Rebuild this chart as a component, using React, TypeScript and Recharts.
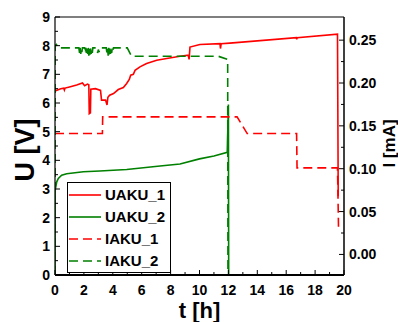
import React from 'react';
import { ComposedChart, Line, XAxis, YAxis, ReferenceLine, Label } from 'recharts';

const FONT = '"Liberation Sans", Arial, Helvetica, sans-serif';
const RED = '#ff0000';
const GREEN = '#008000';

// UAKU_1 (red solid, left axis, V)
const ua1T = [0, 0.4, 0.6, 0.65, 0.7, 1.0, 1.5, 1.9, 2.05, 2.25, 2.34, 2.37, 2.45, 2.48, 2.8, 3.15, 3.22, 3.5, 3.6, 3.66, 3.78, 4.05, 4.38, 4.73, 4.96, 5.14, 5.24, 5.42, 5.54, 5.88, 6.34, 7.04, 7.73, 8.65, 9.22, 9.28, 9.34, 10.03, 11.42, 11.45, 11.5, 12.1, 16.7, 16.73, 16.76, 19.55, 19.6];
const ua1V = [6.42, 6.5, 6.52, 6.45, 6.52, 6.56, 6.63, 6.7, 6.6, 6.66, 6.64, 5.63, 5.66, 6.48, 6.5, 6.44, 6.1, 6.1, 5.93, 6.2, 6.27, 6.33, 6.47, 6.54, 6.68, 6.82, 6.97, 7.0, 7.14, 7.26, 7.38, 7.49, 7.55, 7.63, 7.67, 7.52, 7.95, 8.04, 8.07, 7.9, 8.07, 8.09, 8.28, 8.22, 8.28, 8.4, 2.75];

// UAKU_2 (green solid, left axis, V)
const ua2T = [0, 0.01, 0.12, 0.23, 0.46, 0.81, 1.96, 3.1, 4.96, 7.27, 8.65, 10.0, 11.0, 11.92, 12.0, 12.02];
const ua2V = [0, 2.95, 3.25, 3.37, 3.48, 3.53, 3.6, 3.63, 3.68, 3.8, 3.87, 4.05, 4.15, 4.28, 5.95, 0];

// IAKU_1 (red dashed, right axis, mA)
const ia1T = [0, 3.28, 3.3, 12.6, 13.3, 16.72, 16.75, 19.55, 19.62];
const ia1V = [0.141, 0.141, 0.1605, 0.1605, 0.141, 0.141, 0.101, 0.101, 0.032];

// IAKU_2 (green dashed, right axis, mA)
const ia2T = [0, 0.01, 0.1, 0.2, 1.65, 1.7, 1.74, 1.78, 1.82, 1.86, 1.9, 2.05, 2.1, 2.14, 2.18, 2.22, 2.26, 2.3, 2.34, 2.38, 2.42, 2.46, 2.5, 2.54, 2.58, 2.62, 2.66, 2.9, 2.95, 3.0, 3.05, 3.1, 3.55, 3.6, 3.64, 3.68, 3.72, 3.76, 3.8, 3.84, 3.88, 3.92, 3.96, 4.0, 4.05, 5.0, 5.3, 11.3, 11.95, 11.97];
const ia2V = [-0.024, 0.244, 0.245, 0.241, 0.241, 0.235, 0.241, 0.234, 0.240, 0.236, 0.241, 0.241, 0.235, 0.241, 0.233, 0.240, 0.234, 0.241, 0.232, 0.240, 0.233, 0.241, 0.234, 0.240, 0.235, 0.241, 0.241, 0.241, 0.235, 0.239, 0.236, 0.241, 0.241, 0.234, 0.240, 0.232, 0.241, 0.233, 0.240, 0.234, 0.241, 0.235, 0.240, 0.236, 0.241, 0.241, 0.2312, 0.2312, 0.2275, -0.024];

const xTicks = [0, 1, 2, 3, 4, 5, 6, 7, 8, 9, 10, 11, 12, 13, 14, 15, 16, 17, 18, 19, 20];
const uTicks = [0, 0.5, 1, 1.5, 2, 2.5, 3, 3.5, 4, 4.5, 5, 5.5, 6, 6.5, 7, 7.5, 8, 8.5, 9];
const iTicks = [0, 0.025, 0.05, 0.075, 0.1, 0.125, 0.15, 0.175, 0.2, 0.225, 0.25];
const iMajor = [0, 0.05, 0.1, 0.15, 0.2, 0.25];

const legendNames = ['UAKU_1', 'UAKU_2', 'IAKU_1', 'IAKU_2'];
const legendColors = [RED, GREEN, RED, GREEN];
const legendDash = [false, false, true, true];

const zip = (t: number[], v: number[]) => t.map((tt, i) => ({ t: tt, v: v[i] }));
const ua1 = zip(ua1T, ua1V);
const ua2 = zip(ua2T, ua2V);
const ia1 = zip(ia1T, ia1V);
const ia2 = zip(ia2T, ia2V);

const TM = 5;
const XTM = 10;

function XTick(props: any) {
  const { x, y, payload } = props;
  const v = payload.value;
  const major = v % 2 === 0;
  const ay = y - XTM;
  return (
    <g>
      <line x1={x} x2={x} y1={ay} y2={ay - (major ? 5 : 3)} stroke="#000" strokeWidth={1} />
      {major && (
        <text x={x} y={y} dy="0.71em" textAnchor="middle" fontSize={14} fontWeight="bold" fontFamily={FONT} fill="#000">
          {v}
        </text>
      )}
    </g>
  );
}

function LTick(props: any) {
  const { x, y, payload } = props;
  const v = payload.value;
  const major = Number.isInteger(v);
  const ax = x + TM;
  return (
    <g>
      <line x1={ax} x2={ax + (major ? 5 : 3)} y1={y} y2={y} stroke="#000" strokeWidth={1} />
      {major && (
        <text x={x} y={y} dy="0.355em" textAnchor="end" fontSize={14} fontWeight="bold" fontFamily={FONT} fill="#000">
          {v}
        </text>
      )}
    </g>
  );
}

function RTick(props: any) {
  const { x, y, payload } = props;
  const v = payload.value;
  const major = iMajor.some((m) => Math.abs(m - v) < 1e-9);
  const ax = x - TM;
  return (
    <g>
      <line x1={ax} x2={ax - (major ? 5 : 3)} y1={y} y2={y} stroke="#000" strokeWidth={1} />
      {major && (
        <text x={x} y={y} dy="0.355em" textAnchor="start" fontSize={14} fontWeight="bold" fontFamily={FONT} fill="#000">
          {v.toFixed(2)}
        </text>
      )}
    </g>
  );
}

function LegendBox() {
  return (
    <div
      style={{
        position: 'absolute',
        left: 67,
        top: 182,
        width: 104,
        height: 91,
        border: '1px solid #000',
        background: '#fff',
        boxSizing: 'border-box',
        fontFamily: FONT,
        fontWeight: 'bold',
        fontSize: 15,
        color: '#000',
      }}
    >
      {legendNames.map((n, i) => (
        <div key={n} style={{ position: 'absolute', left: 0, top: 2 + i * 22, height: 20, width: 102, lineHeight: '20px', whiteSpace: 'nowrap' }}>
          <svg width={34} height={20} style={{ position: 'absolute', left: 0, top: 0 }}>
            <line x1={1} x2={33} y1={10} y2={10} stroke={legendColors[i]} strokeWidth={1.6} strokeDasharray={legendDash[i] ? '9 5' : undefined} />
          </svg>
          <span style={{ position: 'absolute', left: 37, top: 0 }}>{n}</span>
        </div>
      ))}
    </div>
  );
}

export default function App() {
  return (
    <div style={{ position: 'absolute', left: 0, top: 0, width: 398, height: 322, background: '#fff' }}>
      <ComposedChart width={398} height={322} margin={{ top: 17, right: 0, bottom: 0, left: 0 }}>
        <XAxis
          type="number"
          dataKey="t"
          domain={[0, 20]}
          ticks={xTicks}
          interval={0}
          height={47}
          tickSize={0}
          tickMargin={XTM}
          tickLine={false}
          tick={<XTick />}
          axisLine={{ stroke: '#000', strokeWidth: 1.8 }}
          allowDataOverflow
        >
          <Label
            content={(p: any) => {
              const vb = p.viewBox || { x: 55, y: 275, width: 289, height: 47 };
              return (
                <text x={vb.x + vb.width / 2} y={vb.y + 43} textAnchor="middle" fontSize={22} fontWeight="bold" fontFamily={FONT} fill="#000">
                  t [h]
                </text>
              );
            }}
          />
        </XAxis>
        <YAxis
          yAxisId="left"
          type="number"
          domain={[0, 9]}
          ticks={uTicks}
          interval={0}
          width={55}
          tickSize={0}
          tickMargin={TM}
          tickLine={false}
          tick={<LTick />}
          axisLine={{ stroke: '#000', strokeWidth: 1.2 }}
          allowDataOverflow
        >
          <Label
            content={(p: any) => {
              const vb = p.viewBox || { x: 0, y: 17, width: 55, height: 258 };
              const cx = vb.x + 33.5;
              const cy = vb.y + vb.height / 2 + 4;
              return (
                <text x={cx} y={cy} transform={`rotate(-90, ${cx}, ${cy})`} textAnchor="middle" fontSize={27} fontWeight="bold" fontFamily={FONT} fill="#000">
                  U [V]
                </text>
              );
            }}
          />
        </YAxis>
        <YAxis
          yAxisId="right"
          orientation="right"
          type="number"
          domain={[-0.024, 0.277]}
          ticks={iTicks}
          interval={0}
          width={54}
          tickSize={0}
          tickMargin={TM}
          tickLine={false}
          tick={<RTick />}
          axisLine={{ stroke: '#000', strokeWidth: 1.5 }}
          allowDataOverflow
        >
          <Label
            content={(p: any) => {
              const vb = p.viewBox || { x: 344, y: 17, width: 54, height: 258 };
              const cx = vb.x + 51;
              const cy = vb.y + 126.5;
              return (
                <text x={cx} y={cy} transform={`rotate(-90, ${cx}, ${cy})`} textAnchor="middle" fontSize={17} fontWeight="bold" fontFamily={FONT} fill="#000">
                  I [mA]
                </text>
              );
            }}
          />
        </YAxis>
        <ReferenceLine yAxisId="left" y={9} stroke="#000" strokeWidth={1.2} />
        <Line yAxisId="left" data={ua1} dataKey="v" name="UAKU_1" stroke={RED} strokeWidth={1.6} dot={false} type="linear" isAnimationActive={false} />
        <Line yAxisId="left" data={ua2} dataKey="v" name="UAKU_2" stroke={GREEN} strokeWidth={1.6} dot={false} type="linear" isAnimationActive={false} />
        <Line yAxisId="right" data={ia1} dataKey="v" name="IAKU_1" stroke={RED} strokeWidth={1.6} strokeDasharray="9 5" dot={false} type="linear" isAnimationActive={false} />
        <Line yAxisId="right" data={ia2} dataKey="v" name="IAKU_2" stroke={GREEN} strokeWidth={1.6} strokeDasharray="9 5" dot={false} type="linear" isAnimationActive={false} />
      </ComposedChart>
      <LegendBox />
    </div>
  );
}
